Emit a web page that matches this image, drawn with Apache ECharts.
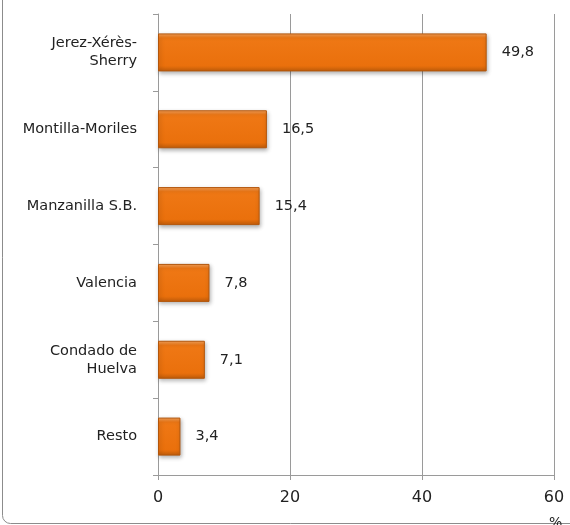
<!DOCTYPE html>
<html lang="es">
<head>
    <meta charset="UTF-8">
    <title>Denominaciones de origen</title>
    <script src="https://cdn.jsdelivr.net/npm/echarts@6/dist/echarts.min.js"></script>
    <style>
        html, body { margin: 0; padding: 0; background: #fff; }
        #main { width: 570px; height: 525px; }
    </style>
</head>
<body>
<div id="main"></div>
<script type="text/javascript">
    // datos
    var categorias = ['Jerez-Xérès-\nSherry', 'Montilla-Moriles', 'Manzanilla S.B.', 'Valencia', 'Condado de\nHuelva', 'Resto'];
    var valores = [49.8, 16.5, 15.4, 7.8, 7.1, 3.4];
    var ticksX = [0, 20, 40, 60];

    var myChart = echarts.init(document.getElementById('main'));
    var fuente = 'DejaVu Sans';

    var option = {
        animation: false,
        backgroundColor: '#fff',
        graphic: [
            {
                type: 'rect',
                shape: { x: 2.5, y: -30, width: 620, height: 553.5, r: 8 },
                style: { fill: 'none', stroke: '#8c8c8c', lineWidth: 1 },
                z: -1
            },
            {
                type: 'text',
                left: 549, top: 516,
                style: { text: '%', fontFamily: fuente, fontSize: 14, fill: '#222' }
            }
        ],
        grid: { left: 158, right: 16, top: 14, bottom: 50 },
        xAxis: {
            type: 'value',
            min: 0, max: 60, interval: 20,
            axisLine: { show: true, lineStyle: { color: '#9a9a9a' } },
            axisTick: { show: true, length: 5, lineStyle: { color: '#9a9a9a' } },
            splitLine: { show: true, lineStyle: { color: '#9a9a9a' } },
            axisLabel: {
                fontFamily: fuente, fontSize: 16, color: '#222', margin: 15,
                formatter: function (v) { return ticksX.indexOf(v) >= 0 ? String(v) : ''; }
            }
        },
        yAxis: {
            type: 'category',
            inverse: true,
            data: categorias,
            axisLine: { show: true, lineStyle: { color: '#9a9a9a' } },
            axisTick: { show: true, length: 5, lineStyle: { color: '#9a9a9a' } },
            axisLabel: {
                fontFamily: fuente, fontSize: 14.5, color: '#222', margin: 21,
                lineHeight: 18, align: 'right'
            }
        },
        series: [{
            type: 'bar',
            data: valores,
            barWidth: 38,
            itemStyle: {
                color: new echarts.graphic.LinearGradient(0, 0, 0, 1, [
                    { offset: 0, color: '#f7a35c' },
                    { offset: 0.12, color: '#ef7815' },
                    { offset: 0.85, color: '#ea700c' },
                    { offset: 1, color: '#c05c0a' }
                ]),
                borderColor: '#b3560b',
                borderWidth: 1,
                shadowColor: 'rgba(0,0,0,0.3)',
                shadowBlur: 4,
                shadowOffsetX: 1,
                shadowOffsetY: 2
            },
            label: {
                show: true,
                position: 'right',
                distance: 15,
                fontFamily: fuente,
                fontSize: 14.5,
                color: '#222',
                formatter: function (p) { return String(p.value).replace('.', ','); }
            }
        }]
    };

    myChart.setOption(option);
</script>
</body>
</html>
